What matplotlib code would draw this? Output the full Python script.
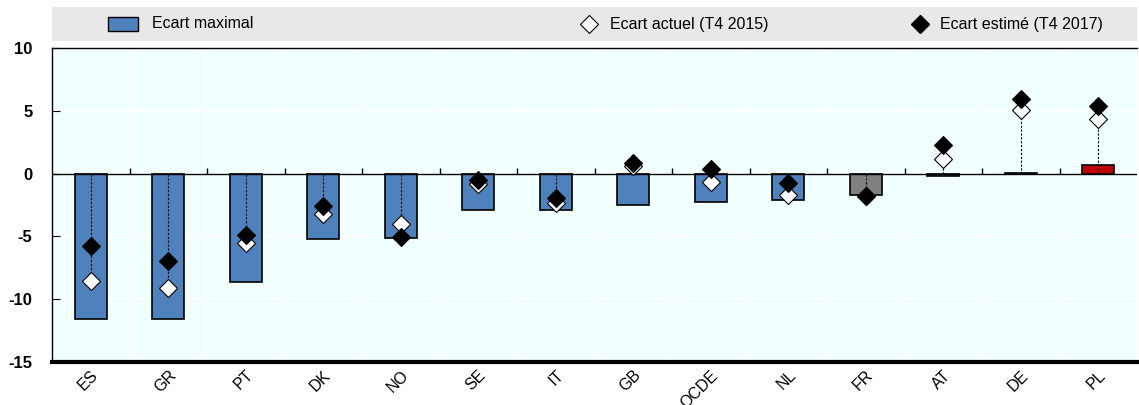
import numpy as np
import matplotlib.pyplot as plt
from matplotlib.patches import Rectangle

plt.rcParams['font.family'] = ['Liberation Sans', 'DejaVu Sans']
plt.rcParams['axes.unicode_minus'] = False

# data
pays = ['ES', 'GR', 'PT', 'DK', 'NO', 'SE', 'IT', 'GB', 'OCDE', 'NL', 'FR', 'AT', 'DE', 'PL']
ecart_max = [-11.55, -11.55, -8.65, -5.23, -5.1, -2.92, -2.87, -2.47, -2.23, -2.14, -1.73, -0.2, 0.05, 0.66]
ecart_2015 = [-8.57, -9.08, -5.5, -3.24, -3.98, -0.8, -2.36, 0.6, -0.67, -1.73, -1.8, 1.14, 5.1, 4.38]
ecart_2017 = [-5.73, -6.96, -4.89, -2.55, -5.05, -0.5, -1.97, 0.87, 0.34, -0.75, -1.8, 2.25, 5.92, 5.38]
bar_colors = ['#4f81bd'] * 10 + ['#808080', '#4f81bd', '#4f81bd', '#c00000']

W, H = 1139, 405
fig = plt.figure(figsize=(W / 100, H / 100), dpi=100)
ax = fig.add_axes([52 / W, (H - 362) / H, 1085 / W, (362 - 48) / H])
ax.set_facecolor('#f2ffff')

x = np.arange(len(pays))
ax.bar(x, ecart_max, width=0.41, color=bar_colors, edgecolor='black', linewidth=1.2, zorder=2)

# dashed stems from zero to the farthest marker
for xi, a, b in zip(x, ecart_2015, ecart_2017):
    end = a if abs(a) > abs(b) else b
    ax.plot([xi, xi], [0, end], color='black', lw=0.8, ls=(0, (2, 1.5)), zorder=3)

ax.axhline(0, color='black', lw=1, zorder=3)
ax.vlines(x[:-1] + 0.5, 0, 0.45, color='black', lw=1, zorder=3)

ax.plot(x, ecart_2015, ls='none', marker='D', ms=9, mfc='white', mec='black', mew=0.8, zorder=4)
ax.plot(x, ecart_2017, ls='none', marker='D', ms=9, mfc='black', mec='black', mew=0.8, zorder=5)

ax.set_xlim(-0.5, len(pays) - 0.5)
ax.set_ylim(-15, 10)
ax.set_yticks([-15, -10, -5, 0, 5, 10])
ax.set_xticks(x)
ax.set_xticklabels(pays, rotation=45, ha='right', rotation_mode='anchor', fontsize=11.5)
ax.set_xticks(x[:-1] + 0.5, minor=True)
ax.tick_params(axis='x', which='both', length=0, pad=4)
ax.tick_params(axis='y', direction='in', length=6, labelsize=12, pad=14)
for lab in ax.get_yticklabels():
    lab.set_fontweight('bold')

ax.grid(axis='y', color='white', lw=1.2, zorder=0)
ax.grid(axis='x', which='minor', color='white', lw=1.2, zorder=0)
ax.set_axisbelow(True)

for s in ['top', 'left']:
    ax.spines[s].set_linewidth(1)
ax.spines['right'].set_visible(False)
ax.spines['bottom'].set_linewidth(3)

# legend band
lg = fig.add_axes([52 / W, (H - 41) / H, 1085 / W, 34 / H])
lg.set_xlim(0, 1085)
lg.set_ylim(0, 34)
lg.axis('off')
lg.add_patch(Rectangle((0, 0), 1085, 34, color='#e8e8e8', zorder=0))
lg.add_patch(Rectangle((56, 10), 30, 14, facecolor='#4f81bd', edgecolor='black', lw=1))
lg.text(100, 17, 'Ecart maximal', va='center', fontsize=11.5)
lg.plot([537], [17], marker='D', ms=9, mfc='white', mec='black', mew=0.8)
lg.text(558, 17, 'Ecart actuel (T4 2015)', va='center', fontsize=11.5)
lg.plot([868], [17], marker='D', ms=9, mfc='black', mec='black')
lg.text(888, 17, 'Ecart estimé (T4 2017)', va='center', fontsize=11.5)

fig.savefig('out.png', dpi=100)
